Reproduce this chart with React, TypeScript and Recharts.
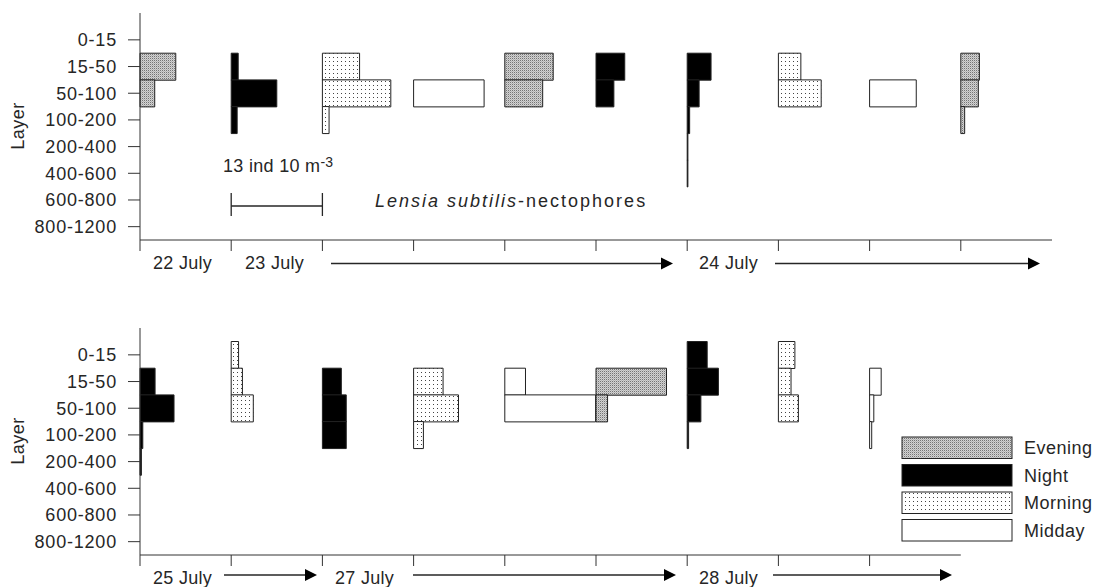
import React from 'react';
import { BarChart, Bar, XAxis, YAxis } from 'recharts';

const LAYERS = ['0-15', '15-50', '50-100', '100-200', '200-400', '400-600', '600-800', '800-1200'];

// one column per sample, each column is 13 ind 10 m-3 wide
const STEP = 13;

// upper panel (22-24 July), values per layer in ind 10 m-3
const jul22Evening = [0, 5.1, 2.1, 0, 0, 0, 0, 0];
const jul23Night = [0, 1.0, 6.5, 0.85, 0, 0, 0, 0];
const jul23Morning = [0, 5.3, 9.75, 0.95, 0, 0, 0, 0];
const jul23Midday = [0, 0, 10.05, 0, 0, 0, 0, 0];
const jul23Evening = [0, 6.9, 5.4, 0, 0, 0, 0, 0];
const jul23Night2 = [0, 4.1, 2.55, 0, 0, 0, 0, 0];
const jul24Night = [0, 3.4, 1.7, 0.35, 0.1, 0.1, 0, 0];
const jul24Morning = [0, 3.2, 6.1, 0, 0, 0, 0, 0];
const jul24Midday = [0, 0, 6.65, 0, 0, 0, 0, 0];
const jul24Evening = [0, 2.65, 2.5, 0.55, 0, 0, 0, 0];

const topSamples = [
  jul22Evening, jul23Night, jul23Morning, jul23Midday, jul23Evening,
  jul23Night2, jul24Night, jul24Morning, jul24Midday, jul24Evening,
];
const topPeriods = [
  'Evening', 'Night', 'Morning', 'Midday', 'Evening',
  'Night', 'Night', 'Morning', 'Midday', 'Evening',
];

// lower panel (25-28 July)
const jul25Night = [0, 2.15, 4.85, 0.4, 0.2, 0, 0, 0];
const jul25Morning = [1.05, 1.6, 3.15, 0, 0, 0, 0, 0];
const jul27Night = [0, 2.7, 3.4, 3.4, 0, 0, 0, 0];
const jul27Morning = [0, 4.2, 6.4, 1.4, 0, 0, 0, 0];
const jul27Midday = [0, 2.95, 12.95, 0, 0, 0, 0, 0];
const jul27Evening = [0, 10.05, 1.65, 0, 0, 0, 0, 0];
const jul28Night = [2.85, 4.45, 1.95, 0.2, 0, 0, 0, 0];
const jul28Morning = [2.35, 1.8, 2.85, 0, 0, 0, 0, 0];
const jul28Midday = [0, 1.65, 0.6, 0.3, 0, 0, 0, 0];

const bottomSamples = [
  jul25Night, jul25Morning, jul27Night, jul27Morning, jul27Midday,
  jul27Evening, jul28Night, jul28Morning, jul28Midday,
];
const bottomPeriods = [
  'Night', 'Morning', 'Night', 'Morning', 'Midday',
  'Evening', 'Night', 'Morning', 'Midday',
];

const PERIODS = ['Evening', 'Night', 'Morning', 'Midday'];

const FILL: Record<string, string> = {
  Evening: 'url(#pat-evening)',
  Night: '#000',
  Morning: 'url(#pat-morning)',
  Midday: '#fff',
};

const FONT = '"Liberation Sans", Arial, sans-serif';
const INK = '#262626';

// x position helper for annotations (same scale as the charts)
const PLOT_LEFT = 140;
const UNIT = 912 / 130;
const px = (u: number) => PLOT_LEFT + u * UNIT;

function buildRows(samples: number[][]) {
  return LAYERS.map((layer, j) => {
    const row: Record<string, any> = { layer };
    let end = 0;
    samples.forEach((s, i) => {
      const start = i * STEP;
      const gap = Math.max(0, start - end);
      row[`g${i}`] = gap;
      row[`v${i}`] = s[j];
      end = end + gap + s[j];
    });
    return row;
  });
}

interface PanelProps {
  samples: number[][];
  periods: string[];
  columns: number;
  top: number;
}

function Panel({ samples, periods, columns, top }: PanelProps) {
  const data = buildRows(samples);
  const max = columns * STEP;
  const ticks = [...Array(columns)].map((_, i) => i * STEP);
  const right = 1094 - (PLOT_LEFT + max * UNIT);

  return (
    <div style={{ position: 'absolute', left: 0, top }}>
      <BarChart
        width={1094}
        height={260}
        data={data}
        layout="vertical"
        barCategoryGap={0}
        margin={{ top: 13, right, bottom: 0, left: 0 }}
      >
        <XAxis
          type="number"
          domain={[0, max]}
          ticks={ticks}
          interval={0}
          height={20}
          tickSize={11}
          tickFormatter={() => ''}
          axisLine={{ stroke: '#333' }}
          tickLine={{ stroke: '#333' }}
        />
        <YAxis
          type="category"
          dataKey="layer"
          width={140}
          interval={0}
          tickSize={12}
          tickMargin={11}
          padding={{ top: 13.5, bottom: 0 }}
          axisLine={{ stroke: '#333' }}
          tickLine={{ stroke: '#333' }}
          tick={{ fontSize: 18, fill: INK, fontFamily: FONT, letterSpacing: 0.8 }}
        />
        {samples.flatMap((_, i) => [
          <Bar
            key={`g${i}`}
            dataKey={`g${i}`}
            stackId="s"
            fill="none"
            stroke="none"
            isAnimationActive={false}
          />,
          <Bar
            key={`v${i}`}
            dataKey={`v${i}`}
            stackId="s"
            fill={FILL[periods[i]]}
            stroke="#222"
            strokeWidth={1}
            isAnimationActive={false}
          />,
        ])}
      </BarChart>
    </div>
  );
}

function Arrow({ x1, x2, y }: { x1: number; x2: number; y: number }) {
  return (
    <g>
      <line x1={x1} x2={x2 - 10} y1={y} y2={y} stroke={INK} strokeWidth={1.3} />
      <polygon points={`${x2 - 12},${y - 6} ${x2},${y} ${x2 - 12},${y + 6}`} fill="#000" />
    </g>
  );
}

function Annotations() {
  const legendTop = 437;
  return (
    <svg
      width={1094}
      height={587}
      style={{ position: 'absolute', left: 0, top: 0, pointerEvents: 'none' }}
      fontFamily={FONT}
      fill={INK}
    >
      <defs>
        <pattern id="pat-evening" width={2} height={2} patternUnits="userSpaceOnUse">
          <rect width={2} height={2} fill="#d2d2d2" />
          <rect width={1} height={1} fill="#747474" />
          <rect x={1} y={1} width={1} height={1} fill="#b4b4b4" />
        </pattern>
        <pattern id="pat-morning" width={4} height={4} patternUnits="userSpaceOnUse">
          <rect width={4} height={4} fill="#fff" />
          <rect x={1} y={1} width={1} height={1} fill="#444" />
        </pattern>
      </defs>

      {/* axis titles */}
      <text x={18} y={126} fontSize={18} letterSpacing={0.5} textAnchor="middle" dominantBaseline="central" transform="rotate(-90 18 126)">Layer</text>
      <text x={18} y={441} fontSize={18} letterSpacing={0.5} textAnchor="middle" dominantBaseline="central" transform="rotate(-90 18 441)">Layer</text>

      {/* scale bar */}
      <text x={223} y={172} fontSize={18} letterSpacing={0.3}>
        13 ind 10 m<tspan fontSize={14} dy={-5}>-3</tspan>
      </text>
      <line x1={px(13)} x2={px(26)} y1={206} y2={206} stroke={INK} strokeWidth={1.3} />
      <line x1={px(13)} x2={px(13)} y1={193} y2={216} stroke={INK} strokeWidth={1.3} />
      <line x1={px(26)} x2={px(26)} y1={193} y2={216} stroke={INK} strokeWidth={1.3} />

      <text x={375} y={207} fontSize={18} letterSpacing={2}>
        <tspan fontStyle="italic">Lensia subtilis</tspan>-nectophores
      </text>

      {/* dates, upper panel */}
      <text x={153} y={268.5} fontSize={18} letterSpacing={0.3}>22 July</text>
      <text x={245} y={268.5} fontSize={18} letterSpacing={0.3}>23 July</text>
      <Arrow x1={331} x2={673} y={263.5} />
      <text x={699} y={268.5} fontSize={18} letterSpacing={0.3}>24 July</text>
      <Arrow x1={775} x2={1040} y={263.5} />

      {/* dates, lower panel */}
      <text x={153} y={583.5} fontSize={18} letterSpacing={0.3}>25 July</text>
      <Arrow x1={224} x2={317} y={575} />
      <text x={335} y={583.5} fontSize={18} letterSpacing={0.3}>27 July</text>
      <Arrow x1={413} x2={676} y={575} />
      <text x={699} y={583.5} fontSize={18} letterSpacing={0.3}>28 July</text>
      <Arrow x1={773} x2={952} y={575} />

      {/* legend */}
      {PERIODS.map((p, i) => {
        const y = legendTop + i * 27.5;
        return (
          <g key={p}>
            <rect x={902} y={y} width={110} height={21.5} fill={FILL[p]} stroke="#222" strokeWidth={1} />
            <text x={1024} y={y + 17} fontSize={18} letterSpacing={0.5}>{p}</text>
          </g>
        );
      })}
    </svg>
  );
}

export default function App() {
  return (
    <div style={{ position: 'absolute', left: 0, top: 0, width: 1094, height: 587, background: '#fff', fontFamily: FONT }}>
      <Panel samples={topSamples} periods={topPeriods} columns={10} top={0} />
      <Panel samples={bottomSamples} periods={bottomPeriods} columns={9} top={315} />
      <Annotations />
    </div>
  );
}
